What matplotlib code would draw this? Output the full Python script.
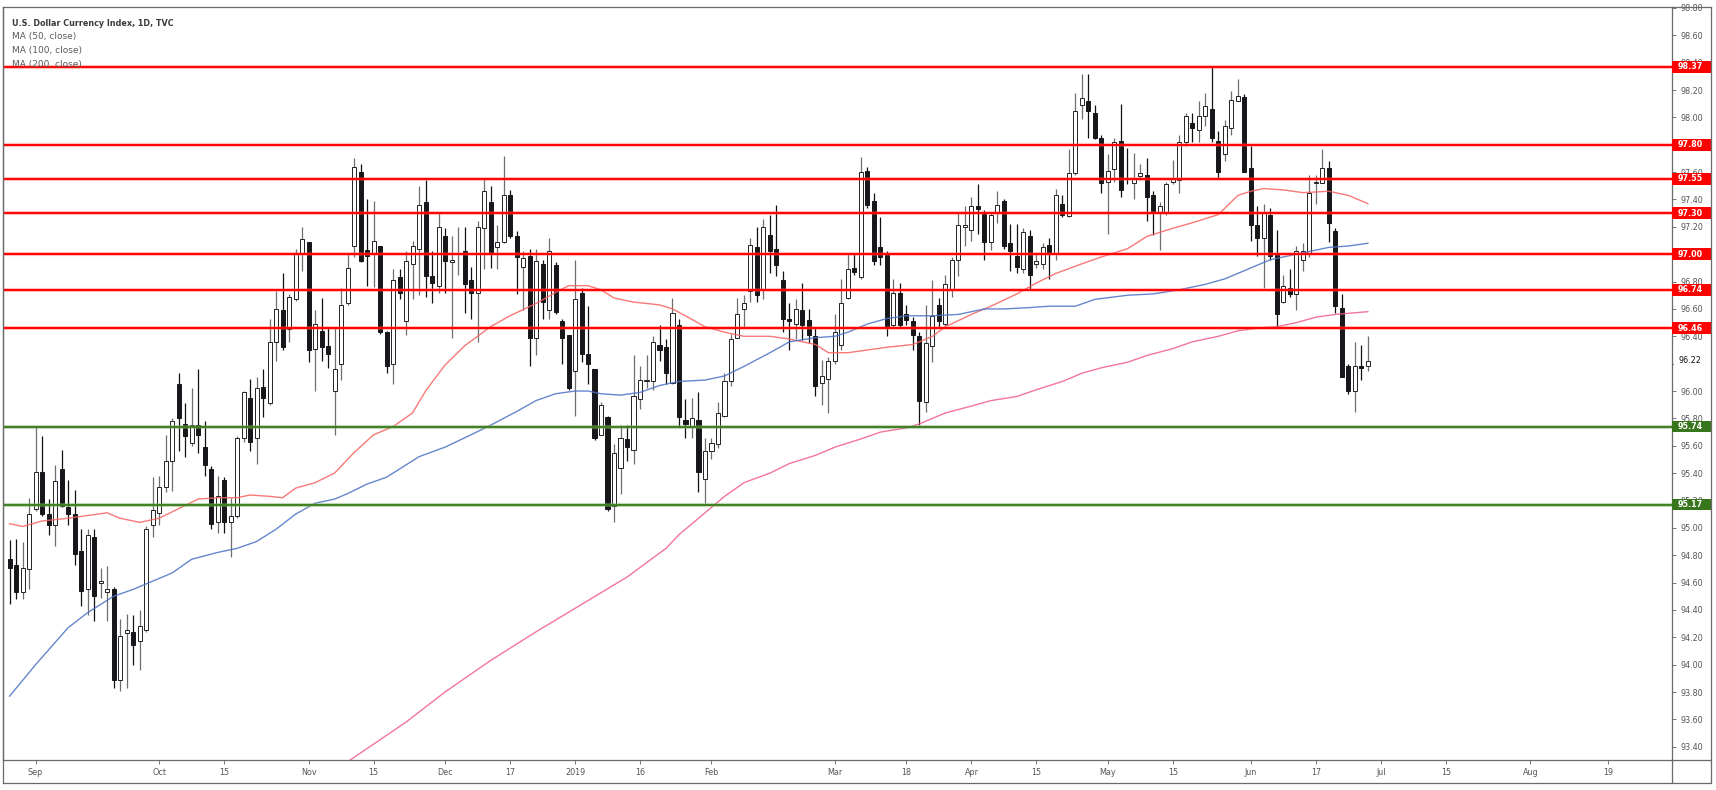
import matplotlib
matplotlib.use("Agg")
import matplotlib.pyplot as plt
import matplotlib.transforms as mtransforms
from matplotlib.patches import Rectangle
from matplotlib.lines import Line2D
import numpy as np
import pandas as pd

# daily candles, 28 Aug 2018 .. 27 Jun 2019
opens = [94.77, 94.73, 94.53, 94.70, 95.14, 95.41, 95.10, 95.02, 95.43, 95.15,
         95.10, 94.83, 94.55, 94.93, 94.60, 94.53, 94.55, 93.89, 94.23, 94.24,
         94.17, 94.25, 95.02, 95.11, 95.30, 95.49, 96.05, 95.76, 95.62, 95.75,
         95.59, 95.43, 95.04, 95.35, 95.04, 95.09, 95.66, 95.95, 95.66, 96.03,
         95.91, 96.36, 96.59, 96.45, 96.67, 97.00, 97.09, 96.31, 96.44, 96.33,
         96.00, 96.20, 96.64, 97.06, 97.60, 97.03, 97.01, 97.06, 96.43, 96.20,
         96.83, 96.51, 96.93, 97.04, 97.38, 96.84, 96.77, 97.13, 96.94, 97.00,
         97.02, 96.81, 96.72, 97.19, 97.38, 97.05, 97.09, 97.43, 97.13, 96.91,
         96.99, 96.39, 96.93, 96.59, 96.92, 96.51, 96.41, 96.15, 96.72, 96.27,
         96.16, 95.68, 95.81, 95.16, 95.44, 95.65, 95.57, 95.94, 96.07, 96.07,
         96.34, 96.32, 96.06, 96.48, 95.79, 95.74, 95.79, 95.36, 95.56, 95.61,
         95.82, 96.07, 96.39, 96.60, 96.73, 97.05, 96.74, 97.14, 97.04, 96.81,
         96.53, 96.49, 96.59, 96.52, 96.40, 96.06, 96.09, 96.22, 96.34, 96.68,
         96.90, 96.83, 97.61, 97.39, 97.05, 97.01, 96.48, 96.72, 96.56, 96.51,
         96.40, 95.92, 96.33, 96.63, 96.49, 96.74, 96.96, 97.20, 97.18, 97.35,
         97.30, 97.09, 97.30, 97.39, 97.08, 96.99, 96.89, 97.13, 96.93, 96.93,
         97.07, 97.01, 97.37, 97.28, 97.59, 98.09, 98.12, 98.03, 97.85, 97.53,
         97.62, 97.83, 97.56, 97.52, 97.57, 97.58, 97.43, 97.31, 97.31, 97.53,
         97.54, 97.82, 97.96, 97.91, 98.01, 98.06, 97.83, 97.73, 97.92, 98.12,
         98.15, 97.63, 97.21, 97.12, 97.29, 97.01, 96.65, 96.75, 96.71, 96.96,
         97.01, 97.52, 97.52, 97.63, 97.17, 96.61, 96.18, 96.00, 96.18, 96.18]
highs = [94.91, 94.92, 94.90, 95.22, 95.74, 95.67, 95.21, 95.46, 95.57, 95.35,
         95.28, 94.99, 94.99, 94.99, 94.71, 94.72, 94.57, 94.33, 94.37, 94.36,
         94.40, 95.01, 95.37, 95.38, 95.68, 95.80, 96.13, 95.91, 96.02, 96.16,
         95.78, 95.45, 95.38, 95.37, 95.22, 95.67, 96.00, 96.09, 96.10, 96.16,
         96.53, 96.73, 96.86, 96.71, 97.04, 97.20, 97.09, 96.59, 96.68, 96.46,
         96.46, 96.75, 97.00, 97.70, 97.66, 97.40, 97.39, 97.06, 96.44, 96.89,
         96.89, 97.02, 97.10, 97.50, 97.54, 97.02, 97.31, 97.19, 97.13, 97.20,
         97.20, 96.91, 97.24, 97.55, 97.50, 97.21, 97.72, 97.47, 97.17, 97.02,
         97.04, 97.04, 96.96, 97.12, 96.94, 96.53, 96.41, 96.96, 96.75, 96.62,
         96.16, 95.92, 95.82, 95.61, 95.75, 95.75, 96.26, 96.18, 96.26, 96.40,
         96.48, 96.38, 96.68, 96.53, 95.94, 95.95, 95.99, 95.66, 95.66, 95.92,
         96.13, 96.42, 96.68, 96.70, 97.12, 97.20, 97.26, 97.29, 97.36, 96.88,
         96.64, 96.67, 96.79, 96.60, 96.47, 96.23, 96.25, 96.56, 96.82, 97.01,
         97.01, 97.71, 97.64, 97.45, 97.27, 97.02, 96.82, 96.79, 96.63, 96.54,
         96.43, 96.63, 96.81, 96.68, 96.85, 96.98, 97.30, 97.35, 97.42, 97.51,
         97.32, 97.31, 97.46, 97.40, 97.22, 97.22, 97.19, 97.18, 97.01, 97.08,
         97.12, 97.48, 97.43, 97.77, 98.18, 98.32, 98.32, 98.09, 97.87, 97.73,
         97.85, 98.10, 97.78, 97.74, 97.66, 97.70, 97.46, 97.38, 97.53, 97.69,
         97.87, 98.03, 98.03, 98.12, 98.18, 98.37, 97.90, 97.98, 98.19, 98.28,
         98.17, 97.79, 97.35, 97.37, 97.34, 97.18, 96.85, 96.89, 97.06, 97.08,
         97.58, 97.58, 97.77, 97.68, 97.19, 96.71, 96.20, 96.36, 96.34, 96.40]
lows = [94.44, 94.48, 94.48, 94.55, 95.12, 95.09, 94.95, 94.87, 95.15, 95.02,
        94.73, 94.43, 94.36, 94.32, 94.49, 94.32, 93.83, 93.81, 93.83, 94.00,
        93.96, 94.24, 94.93, 95.02, 95.26, 95.27, 95.56, 95.52, 95.60, 95.55,
        95.38, 94.99, 94.96, 94.96, 94.79, 95.07, 95.63, 95.56, 95.47, 95.81,
        95.90, 96.22, 96.30, 96.36, 96.66, 96.88, 96.21, 96.00, 96.22, 96.17,
        95.68, 96.08, 96.63, 96.98, 96.94, 96.77, 96.76, 96.42, 96.13, 96.05,
        96.67, 96.41, 96.67, 96.70, 96.69, 96.64, 96.72, 96.72, 96.39, 96.85,
        96.57, 96.53, 96.36, 96.89, 96.90, 96.89, 97.08, 97.12, 96.71, 96.59,
        96.18, 96.26, 96.53, 96.53, 96.56, 96.20, 96.01, 95.82, 96.21, 96.05,
        95.64, 95.68, 95.12, 95.04, 95.25, 95.49, 95.47, 95.87, 96.02, 96.01,
        96.22, 96.05, 96.05, 95.74, 95.66, 95.66, 95.26, 95.18, 95.50, 95.58,
        95.81, 96.04, 96.39, 96.47, 96.65, 96.65, 96.67, 96.86, 96.84, 96.43,
        96.30, 96.38, 96.37, 96.35, 95.96, 95.90, 95.84, 96.20, 96.30, 96.67,
        96.85, 96.82, 97.34, 96.92, 96.92, 96.40, 96.47, 96.47, 96.48, 96.30,
        95.75, 95.85, 96.21, 96.47, 96.46, 96.69, 96.84, 97.06, 97.10, 97.15,
        96.96, 97.03, 97.23, 97.04, 96.88, 96.86, 96.86, 96.74, 96.90, 96.89,
        96.82, 96.96, 97.27, 97.27, 97.58, 97.99, 97.85, 97.84, 97.45, 97.15,
        97.53, 97.42, 97.51, 97.40, 97.54, 97.24, 97.14, 97.03, 97.29, 97.51,
        97.45, 97.79, 97.82, 97.82, 97.94, 97.82, 97.55, 97.68, 97.87, 98.12,
        97.60, 97.10, 96.99, 96.75, 96.96, 96.47, 96.64, 96.69, 96.59, 96.88,
        96.98, 97.37, 97.52, 97.09, 96.57, 96.10, 95.98, 95.85, 96.08, 96.15]
closes = [94.71, 94.53, 94.71, 95.10, 95.41, 95.10, 95.02, 95.34, 95.16, 95.10,
          94.81, 94.54, 94.95, 94.50, 94.60, 94.55, 93.89, 94.21, 94.25, 94.14,
          94.28, 94.99, 95.13, 95.30, 95.49, 95.78, 95.80, 95.67, 95.75, 95.68,
          95.46, 95.03, 95.23, 95.04, 95.09, 95.66, 95.99, 95.63, 96.02, 95.95,
          96.36, 96.60, 96.32, 96.69, 97.01, 97.11, 96.30, 96.49, 96.32, 96.27,
          96.16, 96.63, 96.90, 97.64, 96.95, 96.99, 97.10, 96.43, 96.18, 96.81,
          96.72, 96.95, 97.06, 97.36, 96.84, 96.79, 97.20, 96.95, 96.96, 97.00,
          96.78, 96.72, 97.20, 97.46, 97.00, 97.09, 97.43, 97.13, 96.98, 96.97,
          96.39, 96.95, 96.65, 97.02, 96.58, 96.39, 96.02, 96.67, 96.27, 96.20,
          95.66, 95.90, 95.14, 95.55, 95.66, 95.59, 95.96, 96.08, 96.08, 96.36,
          96.30, 96.13, 96.57, 95.81, 95.76, 95.80, 95.41, 95.56, 95.62, 95.84,
          96.07, 96.38, 96.56, 96.64, 97.07, 96.70, 97.20, 97.02, 96.92, 96.53,
          96.51, 96.60, 96.48, 96.41, 96.04, 96.11, 96.22, 96.43, 96.64, 96.89,
          96.87, 97.60, 97.36, 96.95, 96.98, 96.47, 96.72, 96.48, 96.52, 96.41,
          95.93, 96.35, 96.55, 96.51, 96.78, 96.96, 97.21, 97.21, 97.35, 97.33,
          97.09, 97.29, 97.36, 97.06, 97.02, 96.91, 97.16, 96.85, 96.95, 97.05,
          97.01, 97.43, 97.29, 97.59, 98.05, 98.14, 98.05, 97.85, 97.52, 97.61,
          97.82, 97.47, 97.55, 97.55, 97.59, 97.42, 97.31, 97.35, 97.51, 97.55,
          97.82, 98.01, 97.92, 98.01, 98.08, 97.85, 97.60, 97.94, 98.13, 98.16,
          97.60, 97.21, 97.12, 97.30, 96.99, 96.56, 96.77, 96.71, 97.02, 97.02,
          97.45, 97.52, 97.63, 97.23, 96.62, 96.10, 96.00, 96.18, 96.17, 96.22]

# moving averages read at sampled bars
ma50_idx = [0, 2, 5, 9, 12, 15, 17, 20, 23, 26, 29, 32, 35, 37, 40, 42, 44, 47, 50, 53,
            56, 59, 62, 64, 67, 70, 74, 77, 81, 84, 86, 89, 91, 93, 96, 100, 102, 104, 107, 110,
            113, 117, 120, 124, 126, 129, 132, 135, 139, 142, 144, 148, 151, 155, 158, 161, 165, 168, 172, 175,
            179, 182, 186, 189, 191, 193, 196, 199, 203, 206, 209]
ma50_val = [95.03, 95.01, 95.05, 95.07, 95.09, 95.11, 95.07, 95.04, 95.07, 95.14, 95.21, 95.22, 95.22, 95.24, 95.23, 95.22, 95.29, 95.33, 95.40, 95.55,
            95.68, 95.74, 95.84, 96.00, 96.19, 96.33, 96.47, 96.55, 96.64, 96.72, 96.77, 96.77, 96.74, 96.68, 96.65, 96.63, 96.60, 96.55, 96.47, 96.43,
            96.40, 96.40, 96.38, 96.34, 96.28, 96.28, 96.30, 96.32, 96.34, 96.40, 96.47, 96.56, 96.62, 96.71, 96.79, 96.86, 96.93, 96.98, 97.04, 97.13,
            97.19, 97.23, 97.29, 97.43, 97.46, 97.48, 97.47, 97.45, 97.46, 97.43, 97.37]
ma100_idx = [0, 4, 9, 12, 16, 19, 21, 25, 28, 32, 35, 38, 41, 44, 47, 50, 52, 55, 58, 60,
             63, 67, 71, 74, 78, 81, 84, 87, 89, 91, 94, 97, 100, 103, 107, 110, 113, 117, 120, 124,
             127, 129, 132, 135, 138, 142, 146, 150, 153, 157, 160, 164, 167, 172, 176, 180, 184, 187, 191, 194,
             197, 199, 203, 206, 209]
ma100_val = [93.77, 94.00, 94.27, 94.38, 94.50, 94.55, 94.59, 94.67, 94.77, 94.82, 94.85, 94.90, 94.99, 95.10, 95.18, 95.21, 95.25, 95.32, 95.37, 95.43,
             95.52, 95.59, 95.68, 95.75, 95.85, 95.93, 95.98, 96.00, 96.00, 95.98, 95.97, 95.99, 96.04, 96.07, 96.08, 96.11, 96.18, 96.28, 96.36, 96.39,
             96.40, 96.43, 96.49, 96.53, 96.55, 96.55, 96.56, 96.60, 96.60, 96.61, 96.62, 96.62, 96.67, 96.70, 96.71, 96.74, 96.78, 96.82, 96.90, 96.96,
             96.99, 97.01, 97.05, 97.06, 97.08]
ma200_idx = [52, 61, 67, 74, 81, 88, 95, 101, 103, 107, 110, 113, 117, 120, 124, 127, 131, 134, 138, 140,
             144, 148, 151, 155, 158, 162, 165, 168, 172, 175, 179, 182, 186, 189, 192, 195, 198, 201, 204, 209]
ma200_val = [93.29, 93.58, 93.80, 94.03, 94.24, 94.44, 94.64, 94.85, 94.95, 95.11, 95.23, 95.33, 95.40, 95.47, 95.53, 95.59, 95.65, 95.70, 95.73, 95.76,
             95.84, 95.89, 95.93, 95.96, 96.01, 96.07, 96.13, 96.17, 96.21, 96.26, 96.31, 96.36, 96.40, 96.44, 96.46, 96.47, 96.50, 96.54, 96.56, 96.58]

red_levels = [98.37, 97.80, 97.55, 97.30, 97.00, 96.74, 96.46]
green_levels = [95.74, 95.17]
last_price = 96.22

holidays = ['2018-09-03', '2018-11-22', '2018-12-25', '2019-01-01',
            '2019-01-21', '2019-02-18', '2019-04-19', '2019-05-27']
tick_dates = ['2018-09-04', '2018-10-01', '2018-10-15', '2018-11-01', '2018-11-15',
              '2018-12-03', '2018-12-17', '2019-01-02', '2019-01-16', '2019-02-01',
              '2019-03-01', '2019-03-18', '2019-04-01', '2019-04-15', '2019-05-01',
              '2019-05-15', '2019-06-03', '2019-06-17', '2019-07-01', '2019-07-15',
              '2019-08-01', '2019-08-19']
tick_labels = ['Sep', 'Oct', '15', 'Nov', '15', 'Dec', '17', '2019', '16', 'Feb',
               'Mar', '18', 'Apr', '15', 'May', '15', 'Jun', '17', 'Jul', '15', 'Aug', '19']

W, H = 1716, 790
fx = lambda px: px / W
fy = lambda py: 1 - py / H

dates = pd.bdate_range('2018-08-28', '2019-09-30')
dates = dates.drop(pd.to_datetime(holidays))
tick_pos = [dates.get_loc(pd.Timestamp(d)) for d in tick_dates]

fig = plt.figure(figsize=(W / 100, H / 100), dpi=100)
ax = fig.add_axes([fx(3), fy(760), fx(1672) - fx(3), fy(7) - fy(760)])

o = np.array(opens); h = np.array(highs); l = np.array(lows); c = np.array(closes)
x = np.arange(len(o))
up = c >= o

ax.vlines(x[up], l[up], h[up], colors='#6e6e6e', linewidth=0.9, zorder=2)
ax.vlines(x[~up], l[~up], h[~up], colors='#111111', linewidth=0.9, zorder=2)
body_lo = np.minimum(o, c)
body_h = np.maximum(np.abs(c - o), 0.008)
ax.bar(x[up], body_h[up], bottom=body_lo[up], width=0.62, color='white',
       edgecolor='#222222', linewidth=0.7, zorder=3)
ax.bar(x[~up], body_h[~up], bottom=body_lo[~up], width=0.62, color='#17171b',
       edgecolor='#17171b', linewidth=0.7, zorder=3)

ax.plot(ma50_idx, ma50_val, color='#f7625f', lw=1.0, alpha=0.85, zorder=4)
ax.plot(ma100_idx, ma100_val, color='#4b72c4', lw=1.0, alpha=0.85, zorder=4)
ax.plot(ma200_idx, ma200_val, color='#f25c8c', lw=1.0, alpha=0.85, zorder=4)

for lv in red_levels:
    ax.axhline(lv, color='#ff4d4d', lw=3.0, alpha=0.35, zorder=5)
    ax.axhline(lv, color='#ff0000', lw=1.4, zorder=5)
for lv in green_levels:
    ax.axhline(lv, color='#7aa865', lw=3.0, alpha=0.45, zorder=5)
    ax.axhline(lv, color='#3f7f22', lw=1.4, zorder=5)

ax.set_xlim(-1.02, 255.8)
ax.set_ylim(93.303, 98.807)

ax.yaxis.tick_right()
ax.set_yticks(np.arange(93.4, 98.81, 0.2))
ax.set_yticklabels([f'{v:.2f}' for v in np.arange(93.4, 98.81, 0.2)])
ax.tick_params(axis='y', direction='out', length=3, width=0.7, color='#777777',
               labelsize=5.8, labelcolor='#555555', pad=3)
ax.set_xticks(tick_pos)
ax.set_xticklabels(tick_labels)
ax.tick_params(axis='x', direction='out', length=3, width=0.7, color='#777777',
               labelsize=5.8, labelcolor='#555555', pad=3)
for s in ax.spines.values():
    s.set_color('#6a6a6a')
    s.set_linewidth(0.9)

# price labels on the right axis
trans = mtransforms.blended_transform_factory(ax.transAxes, ax.transData)
box_w = (1711 - 1672) / (1672 - 3)
box_h = 0.085
for lv in red_levels + green_levels:
    col = '#ff0000' if lv in red_levels else '#38761d'
    ax.add_patch(Rectangle((1.0, lv - box_h / 2), box_w, box_h, transform=trans,
                           facecolor=col, edgecolor='none', clip_on=False, zorder=10))
    ax.text(1.0 + 6 / 1669, lv, f'{lv:.2f}', transform=trans, color='white',
            fontsize=5.8, fontweight='bold', va='center', ha='left', clip_on=False, zorder=11)
ax.text(1.0 + 6 / 1669, last_price, f'{last_price:.2f}', transform=trans, color='#111111',
        fontsize=5.8, va='center', ha='left', clip_on=False, zorder=11,
        bbox=dict(boxstyle='square,pad=0.5', fc='white', ec='none'))

# legend text
fig.text(fx(12), fy(23), 'U.S. Dollar Currency Index, 1D, TVC', fontsize=5.8,
         fontweight='bold', color='#3a3a3a', va='center', ha='left')
for k, t in enumerate(['MA (50, close)', 'MA (100, close)', 'MA (200, close)']):
    fig.text(fx(12), fy(36 + 14 * k), t, fontsize=6.5, color='#5a5a5a', va='center', ha='left')

# outer frame
frame = dict(color='#6a6a6a', lw=0.9, transform=fig.transFigure)
fig.add_artist(Line2D([fx(3), fx(1711)], [fy(782.5), fy(782.5)], **frame))
fig.add_artist(Line2D([fx(1710.5), fx(1710.5)], [fy(7), fy(783)], **frame))
fig.add_artist(Line2D([fx(3), fx(3)], [fy(7), fy(783)], **frame))
fig.add_artist(Line2D([fx(1672), fx(1711)], [fy(7), fy(7)], **frame))
fig.add_artist(Line2D([fx(1672), fx(1711)], [fy(760), fy(760)], **frame))
fig.add_artist(Line2D([fx(1672), fx(1672)], [fy(760), fy(783)], **frame))

fig.savefig('out.png', dpi=100, facecolor='white')
